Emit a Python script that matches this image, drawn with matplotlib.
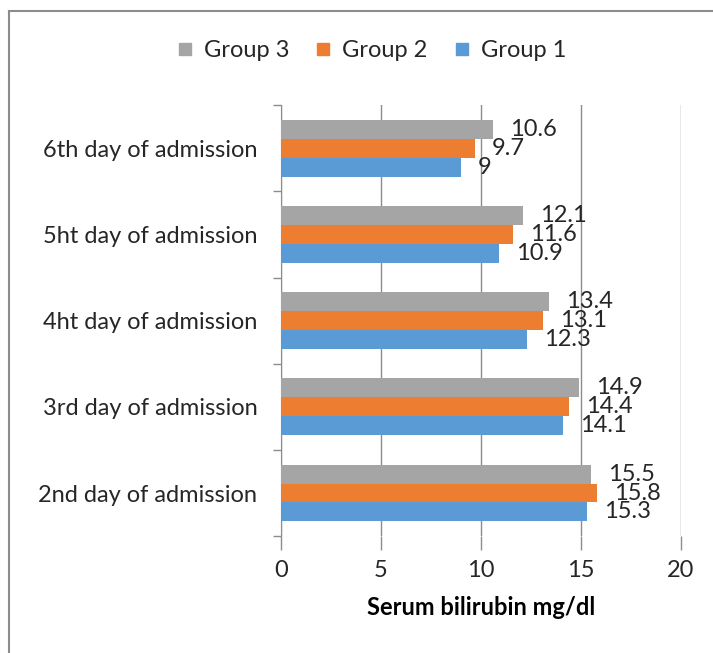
import matplotlib
matplotlib.use("Agg")
import matplotlib.pyplot as plt
import numpy as np
from matplotlib.lines import Line2D

categories = ["2nd day of admission", "3rd day of admission", "4ht day of admission",
              "5ht day of admission", "6th day of admission"]
group1 = [15.3, 14.1, 12.3, 10.9, 9]
group2 = [15.8, 14.4, 13.1, 11.6, 9.7]
group3 = [15.5, 14.9, 13.4, 12.1, 10.6]
x_ticks = [0, 5, 10, 15, 20]

colors = {"Group 1": "#5B9BD5", "Group 2": "#ED7D31", "Group 3": "#A5A5A5"}
text_color = "#262626"
grid_color = "#8C8C8C"

plt.rcParams["font.family"] = ["Lato", "DejaVu Sans"]

fig = plt.figure(figsize=(7.13, 6.53), dpi=100)
ax = fig.add_axes([0.394, 0.179, 0.561, 0.660])

y = np.arange(len(categories))
h = 0.22
series = [("Group 1", group1, -h), ("Group 2", group2, 0), ("Group 3", group3, h)]
for name, vals, off in series:
    bars = ax.barh(y + off, vals, height=h, color=colors[name], label=name, zorder=3)
    for b, v in zip(bars, vals):
        ax.annotate(f"{v:g}", (b.get_width(), b.get_y() + b.get_height() / 2),
                    xytext=(12, 0), textcoords="offset points",
                    va="center", ha="left", fontsize=17, color=text_color)

ax.set_xlim(0, 20)
ax.set_ylim(-0.5, len(categories) - 0.5)
ax.set_xticks(x_ticks)
ax.set_xticklabels([str(t) for t in x_ticks])
ax.set_yticks(np.arange(len(categories) + 1) - 0.5, minor=False)
ax.set_yticklabels([""] * (len(categories) + 1))
ax.set_yticks(y, minor=True)
ax.set_yticklabels(categories, minor=True)
ax.tick_params(axis="y", which="major", length=6, color=grid_color, width=1)
ax.tick_params(axis="y", which="minor", length=0, pad=17, labelsize=17, labelcolor=text_color)
ax.tick_params(axis="x", length=10, color=grid_color, width=1, pad=7,
               labelsize=17, labelcolor=text_color)
ax.grid(axis="x", color=grid_color, linewidth=1, zorder=0)
for s in ["top", "right", "bottom"]:
    ax.spines[s].set_visible(False)
ax.spines["left"].set_color(grid_color)

ax.set_xlabel("Serum bilirubin mg/dl", fontsize=17, fontweight="bold",
              color="black", labelpad=11)

handles = [Line2D([], [], marker="s", linestyle="", markersize=9,
                  color=colors[n]) for n in ["Group 3", "Group 2", "Group 1"]]
fig.legend(handles, ["Group 3", "Group 2", "Group 1"], loc="center",
           bbox_to_anchor=(0.519, 0.923), ncol=3, frameon=False, fontsize=17,
           handlelength=0.9, handletextpad=0.35, columnspacing=1.0,
           labelcolor=text_color)

# outer chart border (only top and left edges are visible)
fig.add_artist(Line2D([9 / 713, 1], [1 - 11 / 653, 1 - 11 / 653],
                      transform=fig.transFigure, color="#8C8C8C", linewidth=1.5))
fig.add_artist(Line2D([9 / 713, 9 / 713], [0, 1 - 11 / 653],
                      transform=fig.transFigure, color="#8C8C8C", linewidth=1.5))

fig.savefig("out.png", dpi=100)
